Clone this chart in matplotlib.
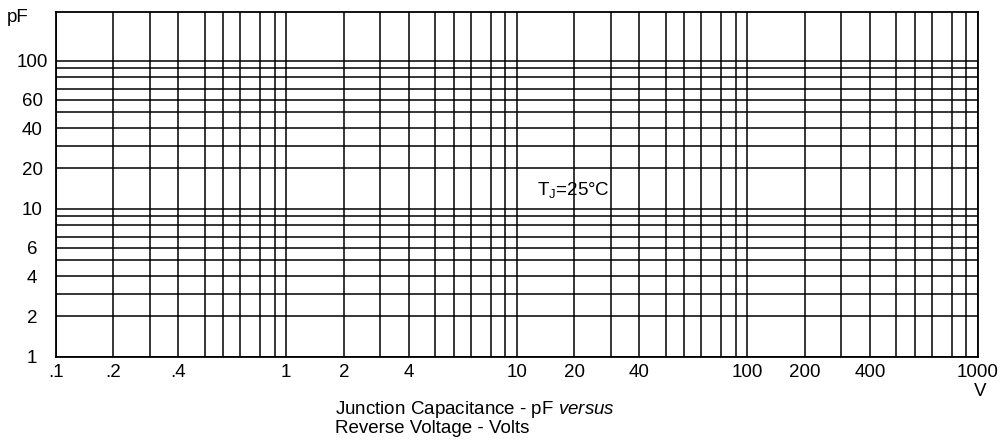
import numpy as np
import matplotlib
matplotlib.use("Agg")
import matplotlib.pyplot as plt

plt.rcParams['font.family'] = ['Liberation Sans', 'DejaVu Sans']
plt.rcParams['mathtext.fontset'] = 'custom'
plt.rcParams['mathtext.rm'] = 'Liberation Sans'
plt.rcParams['mathtext.it'] = 'Liberation Sans:italic'

# axis values and labels
x_ticks = [0.1, 0.2, 0.4, 1, 2, 4, 10, 20, 40, 100, 200, 400, 1000]
x_labels = ['.1', '.2', '.4', '1', '2', '4', '10', '20', '40', '100', '200', '400', '1000']
y_ticks = [1, 2, 4, 6, 10, 20, 40, 60, 100]
y_labels = ['1', '2', '4', '6', '10', '20', '40', '60', '100']

# grid lines of the printed log paper
x_grid = [m * 10.0 ** d for d in range(-1, 3) for m in range(1, 10)] + [1000]
y_grid = [m * 10.0 ** d for d in range(0, 2) for m in range(1, 10)] + [100]

# the paper is not a true log scale: where 2..9 sit inside a decade
MANT = np.arange(1, 11)
x_frac = [0, 0.25, 0.408, 0.532, 0.646, 0.726, 0.80, 0.887, 0.95, 1]
y_frac = [0, 0.273, 0.424, 0.545, 0.657, 0.736, 0.807, 0.891, 0.952, 1]


def make_scale(frac):
    def fwd(v):
        v = np.asarray(v, float)
        lv = np.log10(np.clip(v, 1e-300, None))
        d = np.floor(lv + 1e-9)
        m = 10 ** (lv - d)
        return d + np.interp(m, MANT, frac)

    def inv(t):
        t = np.asarray(t, float)
        d = np.floor(t + 1e-9)
        return np.interp(t - d, frac, MANT) * 10 ** d
    return fwd, inv


xf, xi = make_scale(x_frac)
yf, yi = make_scale(y_frac)

fig = plt.figure(figsize=(10.03, 4.41), dpi=100)
ax = fig.add_axes([0.0555, 0.1912, 0.9193, 0.7816])
ax.set_xscale('function', functions=(xf, xi))
ax.set_yscale('function', functions=(yf, yi))
ax.set_xlim(0.1, 1000)
ax.set_ylim(1, float(yi(2.331)))

for v in x_grid:
    ax.axvline(v, color='black', lw=1.1)
for v in y_grid:
    ax.axhline(v, color='black', lw=1.1)

ax.set_xticks(x_ticks)
ax.set_xticklabels(x_labels)
ax.set_yticks(y_ticks)
ax.set_yticklabels(y_labels, ha='center')
ax.minorticks_off()
ax.tick_params(axis='both', length=0, labelsize=13.5)
ax.tick_params(axis='x', pad=5)
ax.tick_params(axis='y', pad=17)
for s in ax.spines.values():
    s.set_linewidth(1.3)

ax.text(13.5, 14.6, r'T$_{\mathrm{J}}$=25°C', fontsize=13.5, ha='left', va='center')

fig.text(18 / 1003, 1 - 18 / 441, 'pF', fontsize=13.5, ha='center', va='center')
fig.text(980 / 1003, 1 - 392 / 441, 'V', fontsize=13.5, ha='center', va='center')
fig.text(335 / 1003, 1 - 418 / 441,
         'Junction Capacitance - pF $\\it{versus}$\nReverse Voltage - Volts',
         fontsize=13.5, ha='left', va='center', linespacing=0.95)

fig.savefig('out.png', dpi=100)
